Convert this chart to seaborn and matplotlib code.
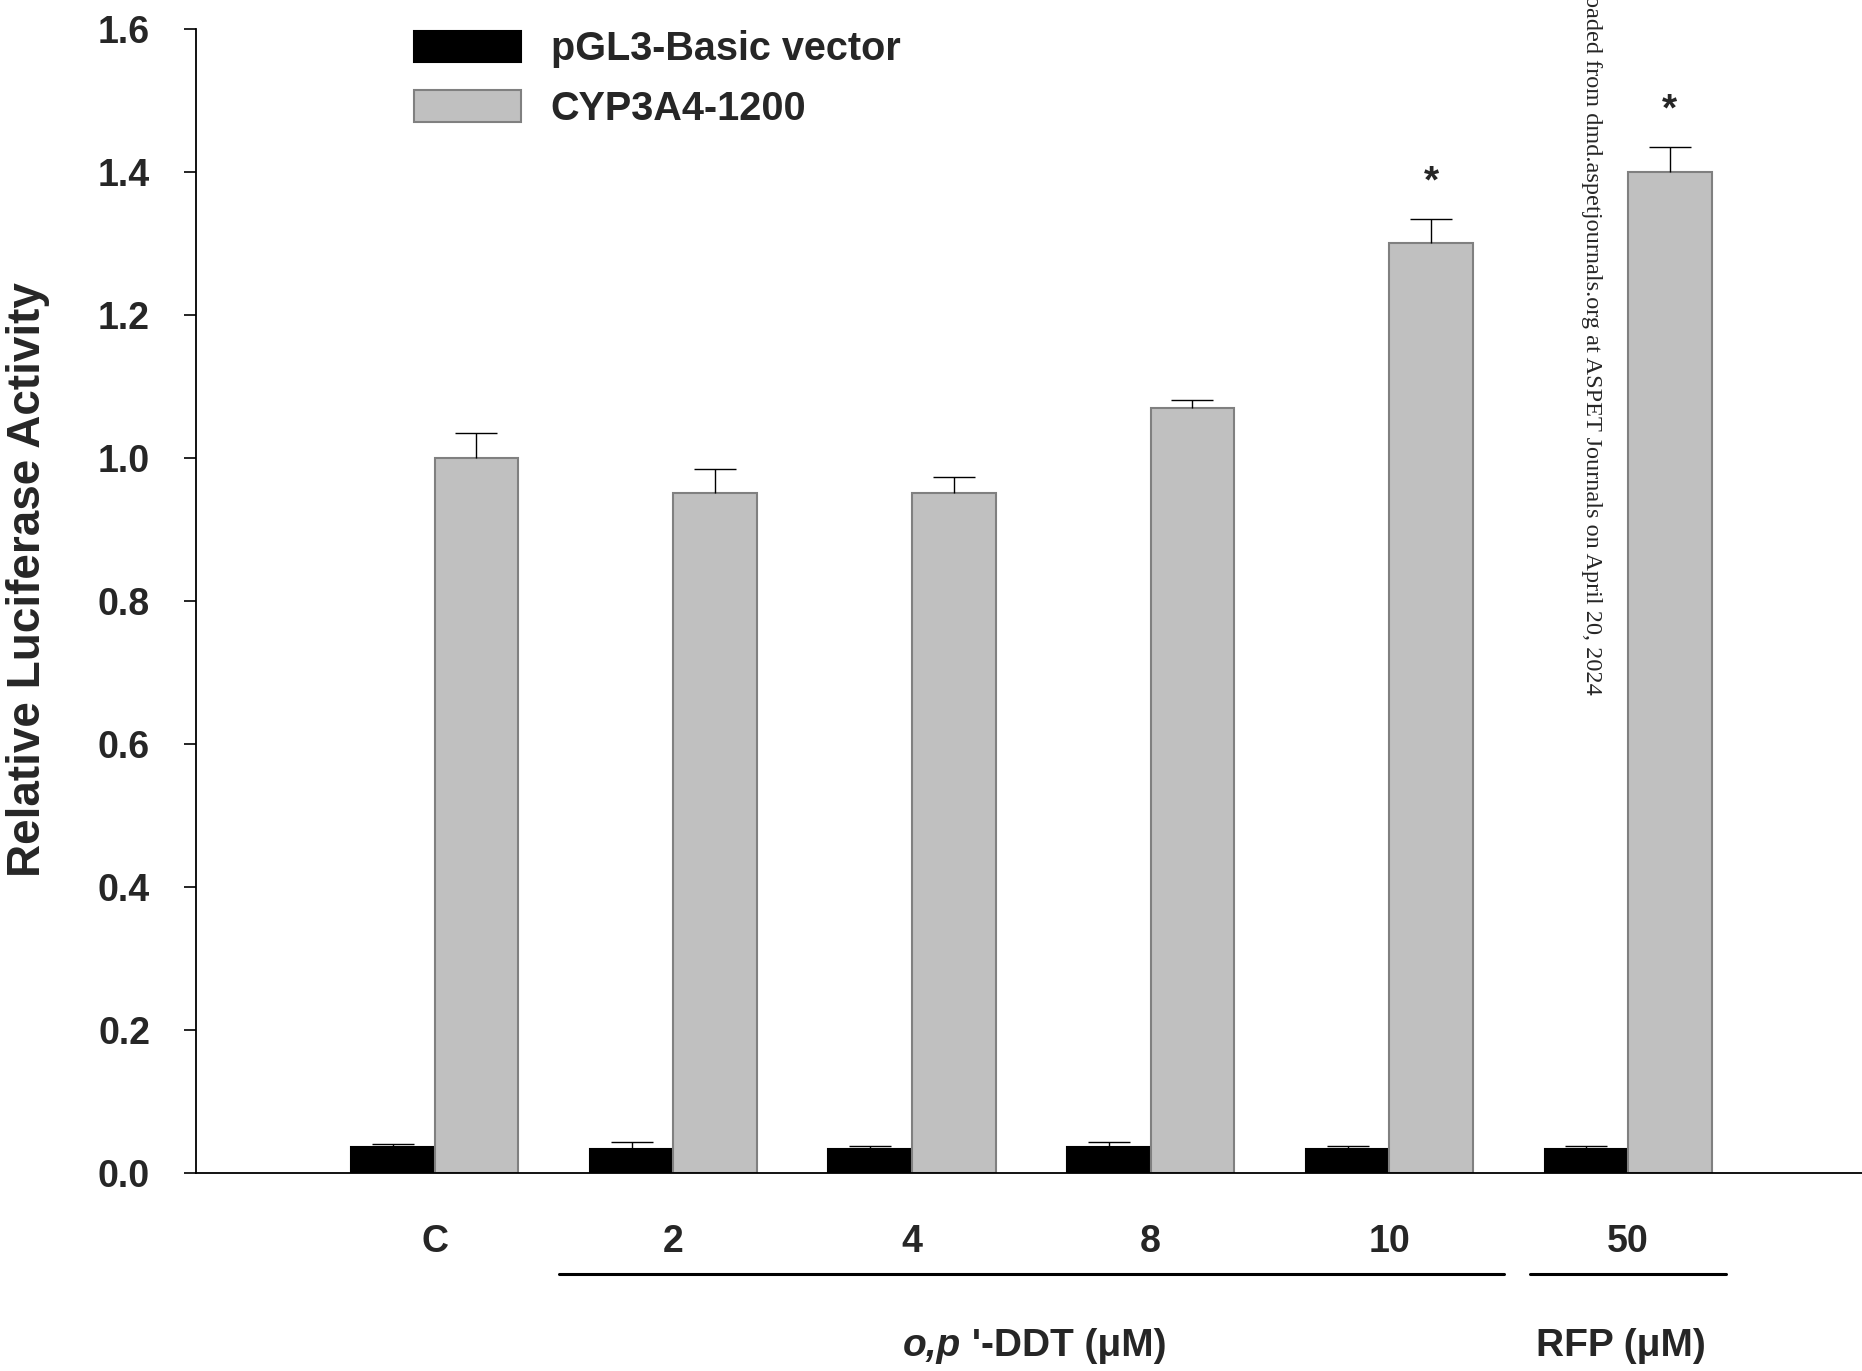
import matplotlib
matplotlib.use("Agg")
import matplotlib.pyplot as plt
import matplotlib.transforms as mtransforms
from matplotlib.patches import Patch
import numpy as np
import pandas as pd
import seaborn as sns

# data
doses = ["C", "2", "4", "8", "10", "50"]
constructs = ["pGL3-Basic vector", "CYP3A4-1200"]
basic_vals = [0.036, 0.033, 0.033, 0.036, 0.034, 0.034]
basic_err = [0.004, 0.010, 0.005, 0.007, 0.004, 0.004]
cyp_vals = [1.00, 0.95, 0.95, 1.07, 1.30, 1.40]
cyp_err = [0.034, 0.034, 0.023, 0.010, 0.034, 0.034]
signif = ["", "", "", "", "*", "*"]
yticks = [0.0, 0.2, 0.4, 0.6, 0.8, 1.0, 1.2, 1.4, 1.6]

df = pd.DataFrame({
    "dose": doses * 2,
    "construct": [constructs[0]] * 6 + [constructs[1]] * 6,
    "activity": basic_vals + cyp_vals,
})
errs = [basic_err, cyp_err]

sns.set_theme(style="ticks")
plt.rcParams["font.family"] = ["Liberation Sans", "DejaVu Sans"]
plt.rcParams["font.weight"] = "bold"

fig = plt.figure(figsize=(18.62, 13.71), dpi=100)
ax = fig.add_axes([0.1052, 0.1444, 0.8948, 0.8348])

colors = ["black", "#c0c0c0"]
edges = ["black", "#808080"]
sns.barplot(data=df, x="dose", y="activity", hue="construct", order=doses,
            hue_order=constructs, palette=colors, width=0.7, errorbar=None,
            legend=False, ax=ax)

# edges + one-sided error bars (upper only, no cap at the bar top)
bar_sets = list(ax.containers)
for i, cont in enumerate(bar_sets):
    xs = []
    hs = []
    for p in cont.patches:
        p.set_edgecolor(edges[i])
        p.set_linewidth(1.5)
        xs.append(p.get_x() + p.get_width() / 2)
        hs.append(p.get_height())
    eb = ax.errorbar(xs, hs, yerr=[np.zeros(len(xs)), errs[i]], fmt="none",
                     ecolor="black", elinewidth=1.0, capsize=15, capthick=1.0)
    for cl in eb[1]:
        if np.allclose(cl.get_ydata(), hs):
            cl.remove()
    if i == 1:
        for x, h, e, s in zip(xs, hs, errs[i], signif):
            if s:
                ax.text(x, h + e + 0.026, s, ha="center", va="bottom",
                        fontsize=28, fontweight="bold")

ax.set_xlim(-1.0, 5.98)
ax.set_ylim(0, 1.6)
ax.set_yticks(yticks)
ax.set_yticklabels([f"{t:.1f}" for t in yticks], fontsize=27, fontweight="bold")
ax.set_xticks(range(len(doses)))
ax.set_xticklabels(doses, fontsize=27, fontweight="bold")
ax.tick_params(axis="y", direction="out", length=9, width=1.2, pad=24, color="black")
ax.tick_params(axis="x", length=0, pad=37)
ax.set_xlabel("")
ax.set_ylabel("")
sns.despine(ax=ax, top=True, right=True)
for s in ["left", "bottom"]:
    ax.spines[s].set_linewidth(1.3)
    ax.spines[s].set_color("black")

# group brackets under the tick labels
trans = mtransforms.blended_transform_factory(ax.transData, ax.transAxes)
ax.plot([0.52, 4.48], [-0.088, -0.088], color="black", lw=2.2, transform=trans, clip_on=False)
ax.plot([4.59, 5.41], [-0.088, -0.088], color="black", lw=2.2, transform=trans, clip_on=False)
t1 = ax.text(1.96, -0.151, "o,p", transform=trans, ha="left", va="center",
             fontsize=28, fontweight="bold", style="italic")
ax.annotate(" '-DDT (μM)", xy=(1, 0.5), xycoords=t1, ha="left", va="center",
            fontsize=28, fontweight="bold")
ax.text(4.97, -0.151, "RFP (μM)", transform=trans, ha="center", va="center",
        fontsize=28, fontweight="bold")

fig.text(0.0153, 0.577, "Relative Luciferase Activity", rotation=90,
         ha="center", va="center", fontsize=33, fontweight="bold")

handles = [Patch(facecolor=colors[i], edgecolor=edges[i], linewidth=1.5) for i in range(2)]
ax.legend(handles, constructs, loc="upper left", bbox_to_anchor=(0.119, 1.016),
          frameon=False, handlelength=2.7, handleheight=0.85,
          handletextpad=0.75, labelspacing=0.55, borderpad=0,
          prop={"weight": "bold", "size": 28.5})

fig.text(0.8546, 0.493,
         "Downloaded from dmd.aspetjournals.org at ASPET Journals on April 20, 2024",
         rotation=-90, ha="center", va="bottom", fontsize=17.5,
         family="Liberation Serif", fontweight="normal")

fig.savefig("out.png", dpi=100)
